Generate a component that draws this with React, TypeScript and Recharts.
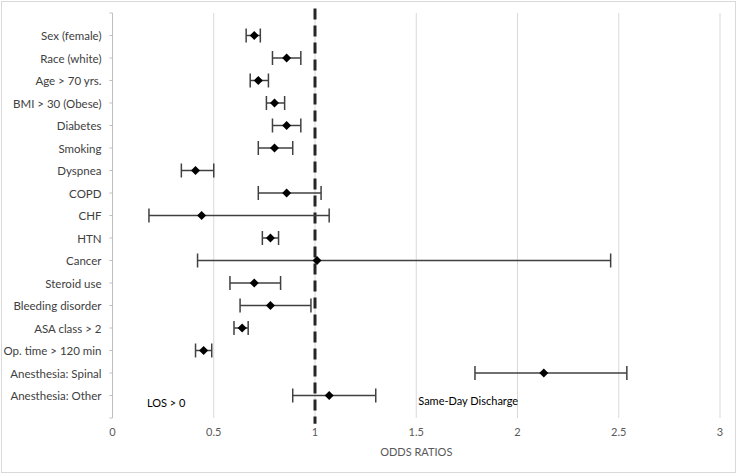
import React from 'react';
import { ScatterChart, Scatter, XAxis, YAxis, CartesianGrid, ErrorBar, ReferenceLine, ReferenceDot } from 'recharts';

const factors = [
  'Sex (female)', 'Race (white)', 'Age > 70 yrs.', 'BMI > 30 (Obese)', 'Diabetes', 'Smoking',
  'Dyspnea', 'COPD', 'CHF', 'HTN', 'Cancer', 'Steroid use', 'Bleeding disorder',
  'ASA class > 2', 'Op. time > 120 min', 'Anesthesia: Spinal', 'Anesthesia: Other',
];
const oddsRatios = [0.70, 0.86, 0.72, 0.80, 0.86, 0.80, 0.41, 0.86, 0.44, 0.78, 1.01, 0.70, 0.78, 0.64, 0.45, 2.13, 1.07];
const ciLow = [0.66, 0.79, 0.68, 0.76, 0.79, 0.72, 0.34, 0.72, 0.18, 0.74, 0.42, 0.58, 0.63, 0.60, 0.41, 1.79, 0.89];
const ciHigh = [0.73, 0.93, 0.77, 0.85, 0.93, 0.89, 0.50, 1.03, 1.07, 0.82, 2.46, 0.83, 0.98, 0.67, 0.49, 2.54, 1.30];
const xTicks = [0, 0.5, 1, 1.5, 2, 2.5, 3];

const n = factors.length;
const yTicks = Array.from({ length: n + 2 }, (_, i) => i);
const data = factors.map((name, i) => ({
  name,
  row: n - i,
  or: oddsRatios[i],
  ci: [oddsRatios[i] - ciLow[i], ciHigh[i] - oddsRatios[i]],
}));

const FONT = 'Lato, "Open Sans", sans-serif';

const Diamond = (props: any) => {
  const { cx, cy } = props;
  const r = 4.5;
  return <path d={`M${cx},${cy - r}L${cx + r},${cy}L${cx},${cy + r}L${cx - r},${cy}Z`} fill="#000" />;
};

const YTick = (props: any) => {
  const { x, y, payload } = props;
  const v = payload.value;
  const label = v >= 1 && v <= n ? factors[n - v] : '';
  return (
    <text x={x} y={y} fill="#404040" fontSize={11.5} fontFamily={FONT} textAnchor="end" dominantBaseline="central">
      {label}
    </text>
  );
};

const textShape = (label: string) => (props: any) => (
  <text x={props.cx} y={props.cy} fill="#000" fontSize={11} fontFamily={FONT} textAnchor="start" dominantBaseline="central">
    {label}
  </text>
);

export default function App() {
  return (
    <div style={{ position: 'absolute', left: 0, top: 0, width: 737, height: 474, background: '#fff' }}>
      <div style={{ position: 'absolute', left: 1, top: 1, width: 735, height: 472, boxSizing: 'border-box', border: '1px solid #d9d9d9' }} />
      <div style={{ position: 'absolute', left: 0, top: 0 }}>
        <ScatterChart width={737} height={474} margin={{ top: 13, right: 17, bottom: 18, left: 12.5 }}>
          <CartesianGrid horizontal={false} stroke="#d9d9d9" strokeWidth={1} />
          <XAxis
            type="number"
            dataKey="or"
            domain={[0, 3]}
            ticks={xTicks}
            axisLine={false}
            tickLine={false}
            tickMargin={4}
            height={38}
            tick={{ fill: '#595959', fontSize: 11, fontFamily: FONT }}
            label={{ value: 'ODDS RATIOS', position: 'insideBottom', offset: 0, fill: '#595959', fontSize: 11, fontFamily: FONT }}
          />
          <YAxis
            type="number"
            dataKey="row"
            domain={[0, n + 1]}
            ticks={yTicks}
            interval={0}
            width={100}
            axisLine={{ stroke: '#bfbfbf' }}
            tickLine={{ stroke: '#bfbfbf' }}
            tickSize={3}
            tickMargin={8}
            tick={YTick}
          />
          <ReferenceLine
            segment={[{ x: 1, y: n + 1.2 }, { x: 1, y: -0.25 }]}
            ifOverflow="visible"
            stroke="#262626"
            strokeWidth={3}
            strokeDasharray="11 6"
          />
          <Scatter data={data} shape={Diamond} isAnimationActive={false}>
            <ErrorBar dataKey="ci" direction="x" width={7} stroke="#404040" strokeWidth={1.5} isAnimationActive={false} />
          </Scatter>
          <ReferenceDot x={0.17} y={0.71} r={0} ifOverflow="visible" shape={textShape('LOS > 0')} />
          <ReferenceDot x={1.51} y={0.76} r={0} ifOverflow="visible" shape={textShape('Same-Day Discharge')} />
        </ScatterChart>
      </div>
    </div>
  );
}
